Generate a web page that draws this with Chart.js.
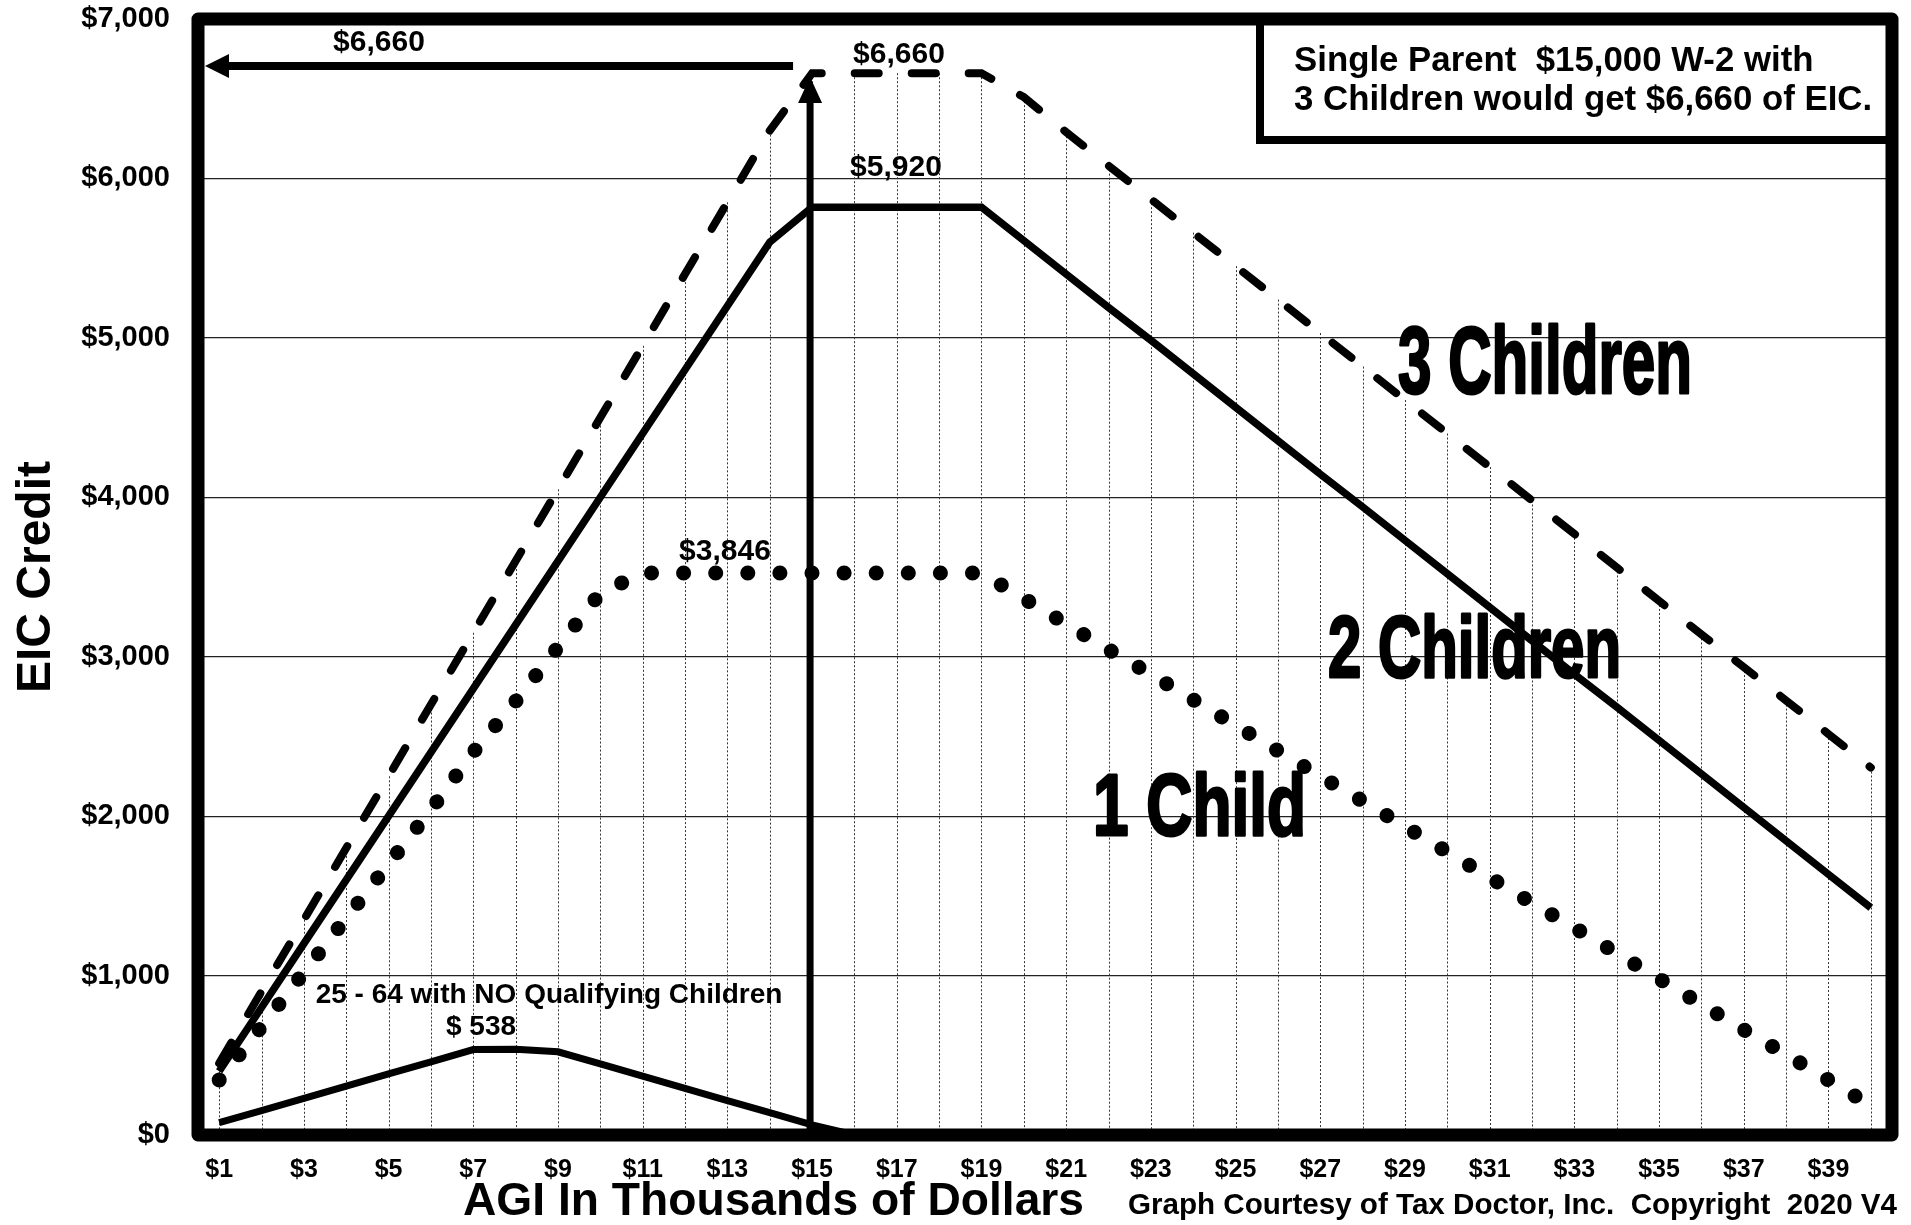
<!DOCTYPE html>
<html>
<head>
<meta charset="utf-8">
<title>EIC Credit</title>
<script src="https://cdn.jsdelivr.net/npm/chart.js@4.4.1/dist/chart.umd.min.js"></script>
<style>
  html, body { margin: 0; padding: 0; background: #fff; }
  canvas { display: block; }
</style>
</head>
<body>
<canvas id="eicChart" width="1911" height="1225"></canvas>
<script>
const categories = ["$1","$2","$3","$4","$5","$6","$7","$8","$9","$10",
  "$11","$12","$13","$14","$15","$16","$17","$18","$19","$20",
  "$21","$22","$23","$24","$25","$26","$27","$28","$29","$30",
  "$31","$32","$33","$34","$35","$36","$37","$38","$39","$40"];

const yTickLabels = ["$0","$1,000","$2,000","$3,000","$4,000","$5,000","$6,000","$7,000"];

const threeChildren = [450, 900, 1350, 1800, 2250, 2700, 3150, 3600, 4050, 4500,
  4950, 5400, 5850, 6300, 6660, 6660, 6660, 6660, 6660, 6510,
  6290, 6080, 5870, 5660, 5450, 5240, 5030, 4820, 4610, 4400,
  4190, 3980, 3770, 3560, 3350, 3140, 2935, 2725, 2515, 2305];

const twoChildren = [400, 800, 1200, 1600, 2000, 2400, 2800, 3200, 3600, 4000,
  4400, 4800, 5200, 5600, 5820, 5820, 5820, 5820, 5820, 5610,
  5400, 5190, 4985, 4775, 4565, 4355, 4145, 3940, 3730, 3520,
  3310, 3100, 2890, 2685, 2475, 2265, 2055, 1845, 1635, 1425];

const oneChild = [345, 680, 1020, 1360, 1700, 2040, 2400, 2720, 3060, 3400,
  3525, 3525, 3525, 3525, 3525, 3525, 3525, 3525, 3525, 3365,
  3205, 3045, 2890, 2730, 2570, 2410, 2250, 2095, 1935, 1775,
  1615, 1455, 1300, 1140, 980, 820, 660, 505, 345, 185];

const noChildren = [77, 153, 230, 306, 383, 459, 536, 538, 522, 446,
  369, 293, 216, 140, 63, 0, null, null, null, null,
  null, null, null, null, null, null, null, null, null, null,
  null, null, null, null, null, null, null, null, null, null];

const FONT = '"Liberation Sans", Arial, Helvetica, sans-serif';

// thin dotted lines dropped from every 3-children point down to the axis
const dropLines = {
  id: "dropLines",
  beforeDatasetsDraw(chart) {
    const { ctx, chartArea } = chart;
    const meta = chart.getDatasetMeta(0);
    ctx.save();
    ctx.strokeStyle = "#333";
    ctx.lineWidth = 1;
    ctx.setLineDash([2, 2]);
    meta.data.forEach((pt) => {
      ctx.beginPath();
      ctx.moveTo(Math.round(pt.x) + 0.5, pt.y);
      ctx.lineTo(Math.round(pt.x) + 0.5, chartArea.bottom);
      ctx.stroke();
    });
    ctx.restore();
  }
};

function text(ctx, str, x, y, size, align) {
  ctx.font = "bold " + size + "px " + FONT;
  ctx.textAlign = align || "center";
  ctx.textBaseline = "alphabetic";
  ctx.fillText(str, x, y);
}

// condensed big labels: squeeze the bold face to the wanted width
function bigLabel(ctx, str, left, baseline, size, width) {
  ctx.save();
  ctx.font = "bold " + size + "px " + FONT;
  ctx.textAlign = "left";
  ctx.textBaseline = "alphabetic";
  const sx = width / ctx.measureText(str).width;
  ctx.translate(left, baseline);
  ctx.scale(sx, 1);
  ctx.lineWidth = 3;
  ctx.lineJoin = "round";
  ctx.strokeStyle = "#000";
  ctx.fillText(str, 0, 0);
  ctx.strokeText(str, 0, 0);
  ctx.restore();
}

const decorations = {
  id: "decorations",
  afterDatasetsDraw(chart) {
    const { ctx, chartArea } = chart;
    const x = chart.scales.x;
    const y = chart.scales.y;
    const { left, right, top, bottom } = chartArea;
    ctx.save();
    ctx.fillStyle = "#000";
    ctx.strokeStyle = "#000";

    // info box top right
    ctx.fillStyle = "#fff";
    ctx.fillRect(1260, top, right - 1260, 140 - top);
    ctx.fillStyle = "#000";
    ctx.lineWidth = 8;
    ctx.strokeRect(1260, top, right - 1260, 140 - top);
    text(ctx, "Single Parent  $15,000 W-2 with", 1294, 71, 34.8, "left");
    text(ctx, "3 Children would get $6,660 of EIC.", 1294, 110, 34.8, "left");

    // plot frame
    ctx.lineWidth = 13;
    ctx.lineJoin = "round";
    ctx.strokeRect(left, top, right - left, bottom - top);

    // arrow at $15 going up
    const x15 = x.getPixelForValue(14) - 2;
    ctx.lineWidth = 7;
    ctx.beginPath();
    ctx.moveTo(x15, bottom);
    ctx.lineTo(x15, 98);
    ctx.stroke();
    ctx.beginPath();
    ctx.moveTo(x15, 77);
    ctx.lineTo(x15 - 12, 103);
    ctx.lineTo(x15 + 12, 103);
    ctx.closePath();
    ctx.fill();

    // arrow to the axis at $6,660
    const ya = y.getPixelForValue(6705);
    ctx.lineWidth = 8;
    ctx.beginPath();
    ctx.moveTo(x15 - 17, ya);
    ctx.lineTo(left + 25, ya);
    ctx.stroke();
    ctx.beginPath();
    ctx.moveTo(left + 7, ya);
    ctx.lineTo(left + 31, ya - 12);
    ctx.lineTo(left + 31, ya + 12);
    ctx.closePath();
    ctx.fill();

    // value labels
    text(ctx, "$6,660", 379, 51, 30);
    text(ctx, "$6,660", 899, 63, 30);
    text(ctx, "$5,920", 896, 176, 30);
    text(ctx, "$3,846", 725, 560, 30);
    text(ctx, "25 - 64 with NO Qualifying Children", 549, 1003, 28);
    text(ctx, "$ 538", 481, 1035, 28);

    // series names
    bigLabel(ctx, "3 Children", 1398, 393, 95, 294);
    bigLabel(ctx, "2 Children", 1328, 677, 87, 293);
    bigLabel(ctx, "1 Child", 1093, 835, 87, 213);

    // axis title and credit line
    text(ctx, "AGI In Thousands of Dollars", 463, 1215, 46.2, "left");
    text(ctx, "Graph Courtesy of Tax Doctor, Inc.  Copyright  2020 V4", 1128, 1214, 29.6, "left");

    ctx.restore();
  }
};

const ctx = document.getElementById("eicChart").getContext("2d");

new Chart(ctx, {
  type: "line",
  data: {
    labels: categories,
    datasets: [
      {
        label: "3 Children",
        data: threeChildren,
        borderColor: "#000",
        borderWidth: 8,
        borderDash: [24, 33],
        borderCapStyle: "round",
        pointRadius: 0,
        tension: 0,
        clip: false
      },
      {
        label: "2 Children",
        data: twoChildren,
        borderColor: "#000",
        borderWidth: 7.5,
        pointRadius: 0,
        tension: 0,
        clip: false
      },
      {
        label: "1 Child",
        data: oneChild,
        borderColor: "#000",
        borderWidth: 15,
        borderDash: [0.1, 32],
        borderCapStyle: "round",
        borderJoinStyle: "round",
        pointRadius: 0,
        tension: 0,
        clip: false
      },
      {
        label: "No Qualifying Children",
        data: noChildren,
        borderColor: "#000",
        borderWidth: 7,
        pointRadius: 0,
        tension: 0,
        spanGaps: false,
        clip: false
      }
    ]
  },
  options: {
    responsive: false,
    animation: false,
    devicePixelRatio: 1,
    layout: { padding: { top: 19, right: 19, bottom: 0, left: 0 } },
    plugins: {
      legend: { display: false },
      tooltip: { enabled: false }
    },
    scales: {
      x: {
        type: "category",
        offset: true,
        grid: { display: false },
        border: { display: false },
        ticks: {
          autoSkip: false,
          maxRotation: 0,
          padding: 12,
          color: "#000",
          font: { family: FONT, size: 25, weight: "bold" },
          callback: (v, i) => (i % 2 === 0 ? categories[i] : "")
        },
        afterFit: (s) => {
          s.height = 90;
          s.paddingLeft = 0;
          s.paddingRight = 0;
        }
      },
      y: {
        min: 0,
        max: 7000,
        grid: { color: "#222", lineWidth: 1.2, drawTicks: false },
        border: { display: false },
        ticks: {
          stepSize: 1000,
          padding: 28,
          color: "#000",
          font: { family: FONT, size: 29, weight: "bold" },
          callback: (v) => yTickLabels[v / 1000]
        },
        title: {
          display: true,
          text: "EIC Credit",
          color: "#000",
          font: { family: FONT, size: 48, weight: "bold" },
          padding: { top: 8, bottom: 0 }
        },
        afterFit: (s) => {
          s.width = 198;
          s.paddingTop = 0;
          s.paddingBottom = 0;
        }
      }
    }
  },
  plugins: [dropLines, decorations]
});
</script>
</body>
</html>
